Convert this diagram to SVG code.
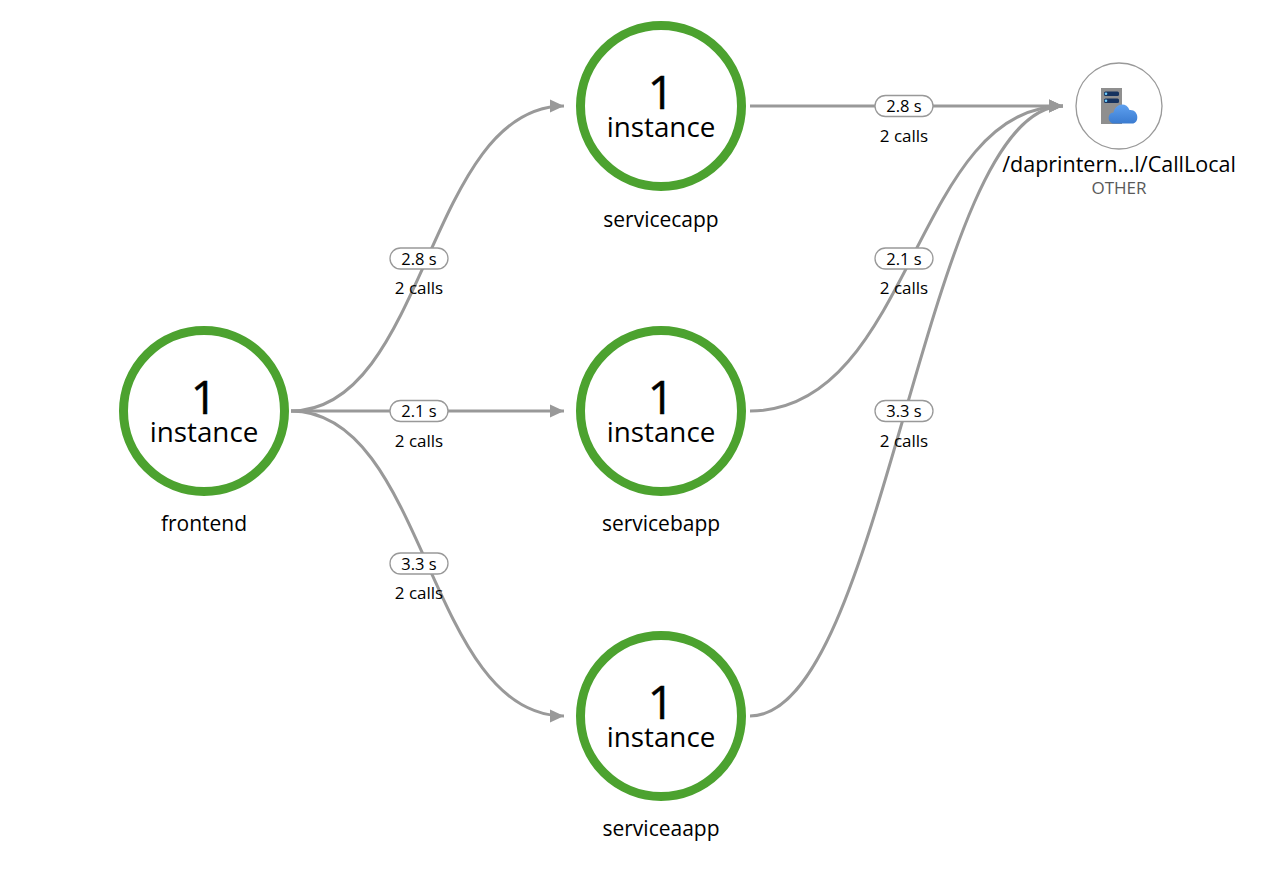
<svg xmlns="http://www.w3.org/2000/svg" width="1282" height="870" viewBox="0 0 1282 870">
<style>
text{font-family:"Open Sans","Noto Sans","Liberation Sans",sans-serif;fill:#000;text-anchor:middle}
.ring{fill:#fff;stroke:#4ca22f;stroke-width:9}
.num{font-size:46px;stroke:#000;stroke-width:.5px}
.inst{font-size:27.800px}
.name{font-size:21px}
.pill{fill:#fff;stroke:#999;stroke-width:1.3}
.lat{font-size:16.500px}
.calls{font-size:17px}
.edge{fill:none;stroke:#999;stroke-width:3;marker-end:url(#arrow)}
</style>
<defs>
<marker id="arrow" markerUnits="userSpaceOnUse" markerWidth="15" markerHeight="15" refX="14" refY="7.500" orient="auto"><path d="M0,1 L14,7.500 L0,14 Z" fill="#999"/></marker>
<linearGradient id="cloud" x1="0" y1="0" x2="0" y2="1"><stop offset="0" stop-color="#5ea0ef"/><stop offset="1" stop-color="#3a7bd0"/></linearGradient>
</defs>
<g id="connectors">
<path class="edge" d="M291,411 C427,411 427,106 564,106"/>
<path class="edge" d="M291,411 L564,411"/>
<path class="edge" d="M291,411 C427,411 427,716 564,716"/>
<path class="edge" d="M750,106 L1063,106"/>
<path class="edge" d="M750,411 C913,411 913,106 1063,106"/>
<path class="edge" d="M750,716 C885,716 925,106 1063,106"/>
</g>
<g id="edge-labels">
<rect class="pill" x="390" y="248" width="58" height="21" rx="10.5"/><text class="lat" x="419" y="264.500">2.8 s</text><text class="calls" x="419" y="294">2 calls</text>
<rect class="pill" x="390" y="400.500" width="58" height="21" rx="10.5"/><text class="lat" x="419" y="417">2.1 s</text><text class="calls" x="419" y="447">2 calls</text>
<rect class="pill" x="390" y="553" width="58" height="21" rx="10.5"/><text class="lat" x="419" y="569.500">3.3 s</text><text class="calls" x="419" y="599">2 calls</text>
<rect class="pill" x="875" y="95.500" width="58" height="21" rx="10.5"/><text class="lat" x="904" y="112">2.8 s</text><text class="calls" x="904" y="142">2 calls</text>
<rect class="pill" x="875" y="248" width="58" height="21" rx="10.5"/><text class="lat" x="904" y="264.500">2.1 s</text><text class="calls" x="904" y="294">2 calls</text>
<rect class="pill" x="875" y="400.500" width="58" height="21" rx="10.5"/><text class="lat" x="904" y="417">3.3 s</text><text class="calls" x="904" y="447">2 calls</text>
</g>
<g id="frontend"><circle class="ring" cx="204" cy="411" r="80.500"/><text class="num" x="204" y="414">1</text><text class="inst" x="204" y="441.500">instance</text><text class="name" x="204" y="531">frontend</text></g>
<g id="servicecapp"><circle class="ring" cx="661" cy="106" r="80.500"/><text class="num" x="661" y="109">1</text><text class="inst" x="661" y="136.500">instance</text><text class="name" x="661" y="227">servicecapp</text></g>
<g id="servicebapp"><circle class="ring" cx="661" cy="411" r="80.500"/><text class="num" x="661" y="414">1</text><text class="inst" x="661" y="441.500">instance</text><text class="name" x="661" y="531">servicebapp</text></g>
<g id="serviceaapp"><circle class="ring" cx="661" cy="716" r="80.500"/><text class="num" x="661" y="719">1</text><text class="inst" x="661" y="746.500">instance</text><text class="name" x="661" y="836">serviceaapp</text></g>
<g id="calllocal">
<circle cx="1119" cy="106" r="43" fill="#fff" stroke="#999" stroke-width="1.3"/>
<rect x="1101" y="88" width="21" height="36" fill="#8f8f8f"/>
<rect x="1104" y="91.500" width="15" height="4.500" rx="1.500" fill="#16335f"/>
<rect x="1104" y="98.500" width="15" height="4.500" rx="1.500" fill="#16335f"/>
<circle cx="1106" cy="93.700" r="1.300" fill="#6fd0ff"/><circle cx="1106" cy="100.700" r="1.300" fill="#6fd0ff"/>
<path d="M1114,123.500 C1107.500,123.500 1106.500,113 1113.500,112.500 C1115,104 1126,101 1129.500,110 C1139,109 1140,123.500 1132,123.500 Z" fill="url(#cloud)"/>
<text x="1119" y="172" font-size="21.500">/daprintern...l/CallLocal</text>
<text x="1119" y="194" font-size="17" style="fill:#595959">OTHER</text>
</g>
</svg>
